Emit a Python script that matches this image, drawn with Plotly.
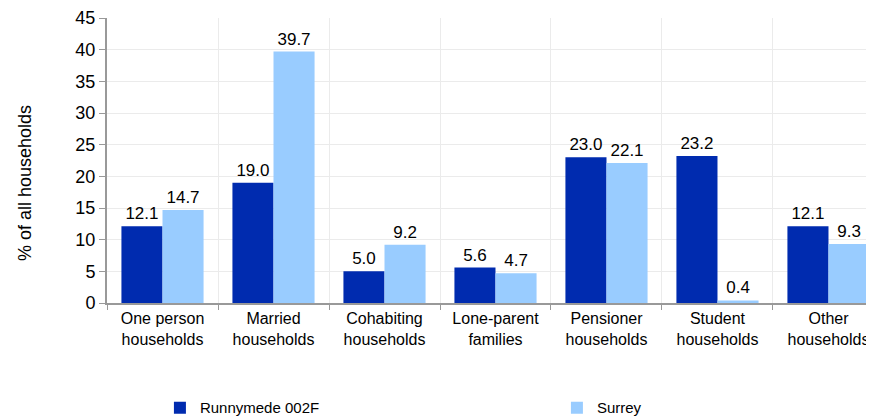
import plotly.graph_objects as go

categories = [
    "One person<br>households",
    "Married<br>households",
    "Cohabiting<br>households",
    "Lone-parent<br>families",
    "Pensioner<br>households",
    "Student<br>households",
    "Other<br>households",
]
runnymede = [12.1, 19.0, 5.0, 5.6, 23.0, 23.2, 12.1]
surrey = [14.7, 39.7, 9.2, 4.7, 22.1, 0.4, 9.3]

dark = "#002BAF"
light = "#99CCFF"
font = "Liberation Sans, Arial, sans-serif"

fig = go.Figure()
fig.add_trace(
    go.Bar(
        x=categories,
        y=runnymede,
        name="Runnymede 002F",
        legendwidth=352,
        marker=dict(color=dark, line=dict(width=0)),
        texttemplate="%{y:.1f}",
        textposition="outside",
        textfont=dict(size=17, color="black"),
        cliponaxis=False,
    )
)
fig.add_trace(
    go.Bar(
        x=categories,
        y=surrey,
        name="Surrey",
        marker=dict(color=light, line=dict(width=0)),
        texttemplate="%{y:.1f}",
        textposition="outside",
        textfont=dict(size=17, color="black"),
        cliponaxis=False,
    )
)

# page body has an 8px margin, so the figure is 8px smaller and margins offset
fig.update_layout(
    width=866,
    height=411,
    autosize=False,
    margin=dict(l=99, r=0, t=10, b=116, autoexpand=False),
    paper_bgcolor="white",
    plot_bgcolor="white",
    font=dict(family=font, size=16, color="black"),
    barmode="group",
    bargap=0.26,
    bargroupgap=0,
    showlegend=True,
    legend=dict(
        orientation="h",
        x=0.069,
        xanchor="left",
        y=-0.368,
        yanchor="middle",
        font=dict(size=15),
    ),
)

fig.update_xaxes(
    type="category",
    range=[-0.5, 6.41],
    tickson="boundaries",
    ticks="outside",
    ticklen=5,
    tickcolor="#999999",
    showline=True,
    linecolor="#999999",
    linewidth=2,
    showgrid=True,
    gridcolor="#EBEBEB",
    tickfont=dict(size=16),
    ticklabeloverflow="allow",
)
fig.update_yaxes(
    range=[0, 45],
    dtick=5,
    ticks="outside",
    ticklen=6,
    tickcolor="#999999",
    showline=True,
    linecolor="#999999",
    linewidth=2,
    showgrid=True,
    gridcolor="#EBEBEB",
    zeroline=False,
    tickfont=dict(size=18),
    ticklabeloverflow="allow",
)

fig.add_annotation(
    text="% of all households",
    textangle=-90,
    xref="paper",
    yref="paper",
    x=-0.106,
    y=0.42,
    xanchor="center",
    yanchor="middle",
    showarrow=False,
    font=dict(size=18),
)

fig.write_html("out.html")
